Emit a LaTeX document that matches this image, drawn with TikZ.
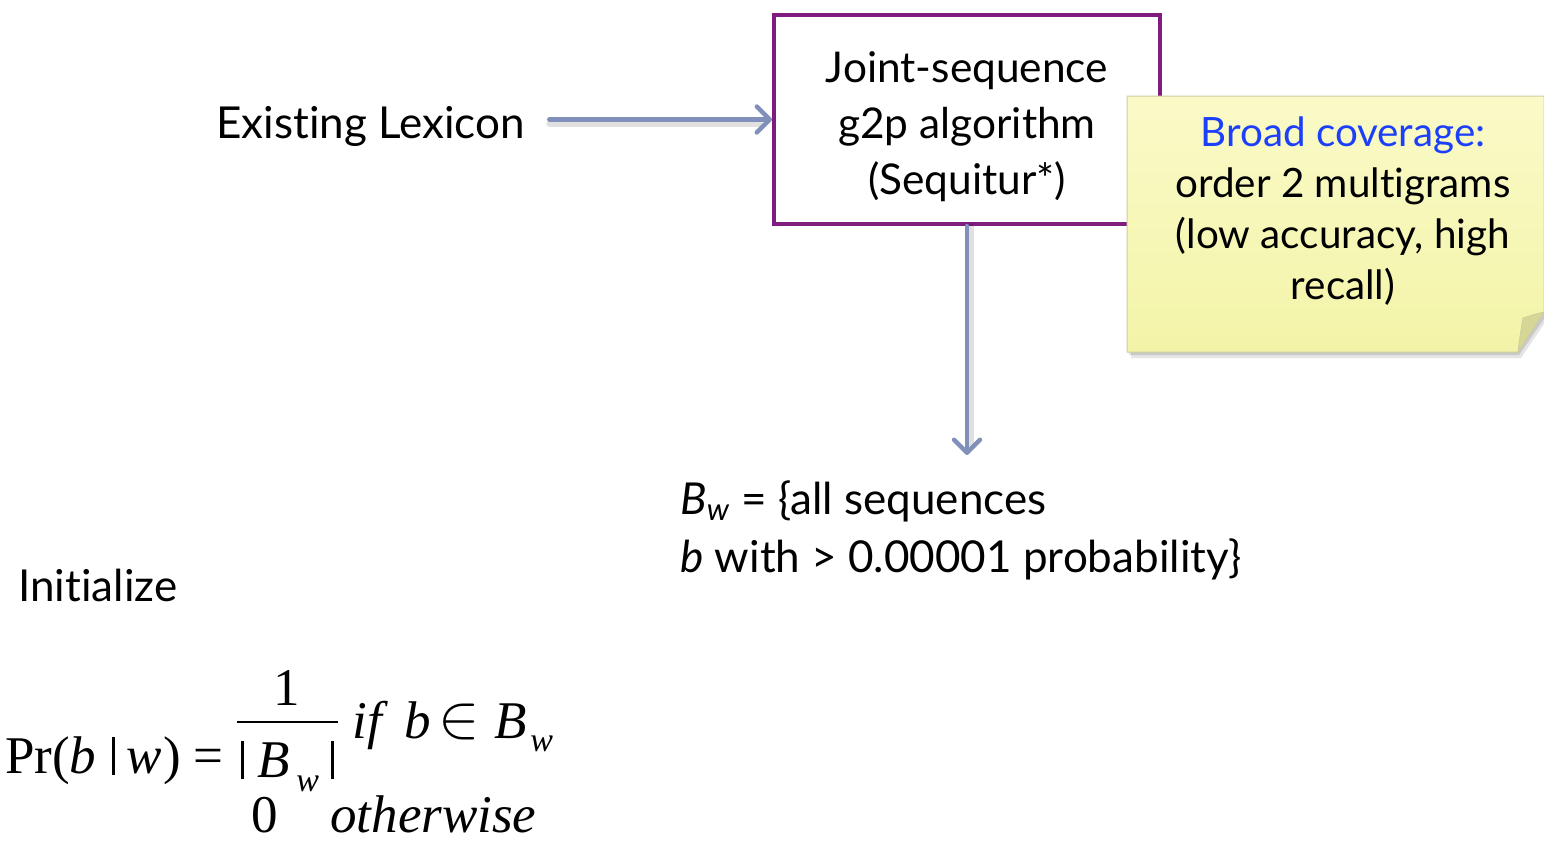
\documentclass[tikz,border=0pt]{standalone}
\usepackage{fix-cm}
\usepackage{fontspec}
\setmainfont{Lato}[Ligatures=NoCommon]
\newfontfamily\tms{Liberation Serif}
\usetikzlibrary{arrows.meta}

\definecolor{boxpurple}{RGB}{128,28,128}
\definecolor{arrowblue}{RGB}{128,144,186}
\definecolor{noteyellow}{RGB}{243,244,168}
\definecolor{notelight}{RGB}{250,250,200}
\definecolor{notefold}{RGB}{214,214,150}
\definecolor{noteedge}{RGB}{205,205,160}
\definecolor{noteblue}{RGB}{28,64,250}

\newcommand{\vbarsym}{\rule[-1pt]{1.4pt}{19pt}}

\begin{document}
\begin{tikzpicture}[x=0.5pt,y=-0.5pt,
  txt/.style={font=\fontsize{22}{28}\selectfont, inner sep=0pt},
  boxtxt/.style={font=\fontsize{21.2}{28}\selectfont, inner sep=0pt, align=center},
  notetxt/.style={font=\fontsize{20.2}{25.5}\selectfont, inner sep=0pt, align=center},
  eq/.style={font=\tms\fontsize{26.5}{30}\selectfont, inner sep=0pt, anchor=base west},
  eqsub/.style={font=\tms\itshape\fontsize{17}{20}\selectfont, inner sep=0pt, anchor=base west},
  flow/.style={draw=arrowblue, line width=2.2pt, line cap=round,
    -{Straight Barb[length=6.5pt,width=13pt,round]}},
  flowshadow/.style={draw=black, opacity=0.12, line width=3pt, line cap=round}]

\useasboundingbox (0,0) rectangle (1544,841);

% algorithm box
\node[draw=boxpurple, line width=2pt, minimum width=193pt, minimum height=104.5pt]
  (algo) at (967,119.5) {};
\node[boxtxt] (algotxt) at (967,127)
  {Joint-sequence\\g2p algorithm\\(Sequitur*)};

% sticky note: shadow, paper, curled corner
\fill[black, opacity=0.10] (1131,101) -- (1548,101) -- (1548,318) -- (1521,358) -- (1131,358) -- cycle;
\fill[black, opacity=0.12] (1129,99) -- (1546,99) -- (1546,316) -- (1519,355) -- (1129,355) -- cycle;
\shade[top color=notelight, bottom color=noteyellow, draw=noteedge, line width=0.5pt]
  (1127,96) -- (1544,96) -- (1544,312) -- (1518,352) -- (1127,352) -- cycle;
\fill[notefold, draw=noteedge, line width=0.4pt]
  (1544,312) .. controls (1536,314) and (1529,316) .. (1523,318)
  .. controls (1521,330) and (1519,342) .. (1518,352) -- cycle;

\node[notetxt] (note) at (1343,211)
  {{\color{noteblue}Broad coverage:}\\order 2 multigrams\\(low accuracy, high\\recall)};

% input label
\node[txt, anchor=base west] (lex) at (216,138) {Existing Lexicon};

% output set
\node[txt, anchor=base west] (bw1) at (680,514) {\textit{B}\textsubscript{\textit{w}} = \{all sequences};
\node[txt, anchor=base west] (bw2) at (680,572) {\textit{b} with {>} 0.00001 probability\}};
\coordinate (bwin) at (967,455);

% connectors
\draw[flowshadow] ([xshift=12pt,yshift=-2pt]lex.east |- algo.west) -- ([xshift=-6pt,yshift=-2pt]algo.west);
\draw[flow] ([xshift=12pt]lex.east |- algo.west) -- (algo.west);
\draw[flowshadow] ([xshift=2pt]algo.south) -- ([xshift=2pt,yshift=4pt]bwin);
\draw[flow] (algo.south) -- (bwin);

% initialization
\node[txt, anchor=base west] (init) at (18,601) {Initialize};

% Pr(b|w) = 1/|B_w| if b in B_w, 0 otherwise
\node[eq] (pr)    at (5,773)   {Pr(};
\node[eq] (lb)    at (69,773)  {\textit{b}};
\node[eq] (lbar)  at (112,773) {\vbarsym};
\node[eq] (lw)    at (126,773) {\textit{w}};
\node[eq] (rpar)  at (163,773) {)};
\node[eq] (eqs)   at (193,773) {=};
\node[eq, anchor=base] (one) at (287,705) {1};
\coordinate (barL) at (237,722);
\coordinate (barR) at (338,722);
\draw[line width=1pt] (barL) -- (barR);
\node[eq] (dl)    at (241,777) {\vbarsym};
\node[eq] (dB)    at (257,777) {\textit{B}};
\node[eqsub] (dw) at (296,791) {w};
\node[eq] (dr)    at (331,777) {\vbarsym};
\node[eq] (cif)   at (352,738) {\textit{if}};
\node[eq] (cb)    at (404,738) {\textit{b}};
\node[eq] (cin)   at (438,737) {\fontsize{31}{33}\selectfont$\in$};
\node[eq] (cB)    at (494,738) {\textit{B}};
\node[eqsub] (cw) at (530,751) {w};
\node[eq, text depth=0pt] (zero)  at (251,832) {0};
\node[eq, text depth=0pt] (other) at (330,832) {\textit{otherwise}};

\end{tikzpicture}
\end{document}
